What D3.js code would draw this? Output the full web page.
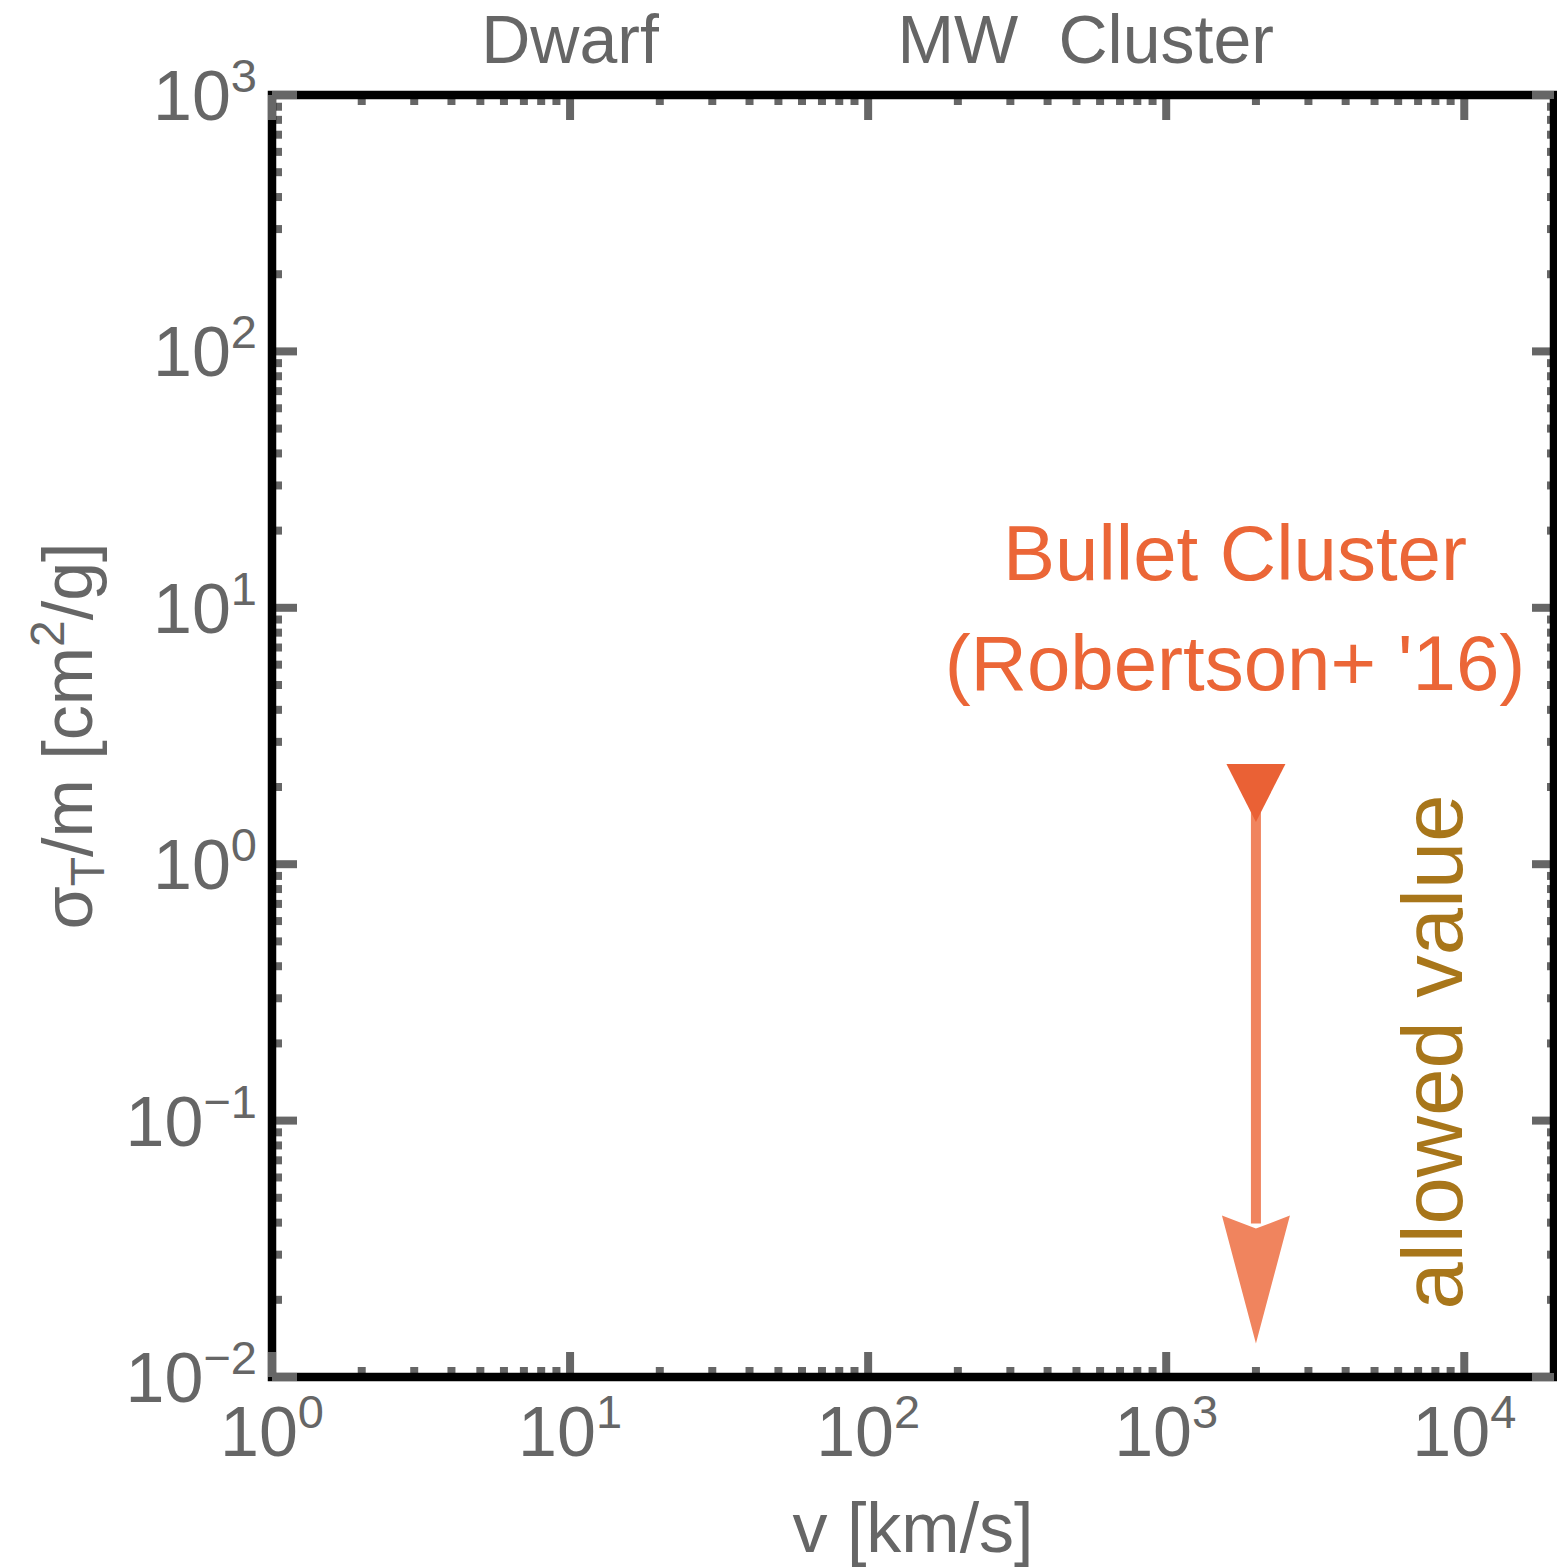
<!DOCTYPE html>
<html>
<head>
<meta charset="utf-8">
<script src="https://cdn.jsdelivr.net/npm/d3@7"></script>
<style>
    body { margin: 0; background: white; }
    text { font-family: "Liberation Sans", Arial, Helvetica, sans-serif; }
</style>
</head>
<body>
<script>
// data
const x_domain = [1, 2e4];
const y_domain = [1e-2, 1e3];
const x_decades = [0, 1, 2, 3, 4];
const y_decades = [-2, -1, 0, 1, 2, 3];
const top_labels = ["Dwarf", "MW", "Cluster"];
const top_label_v = [10, 200, 1000];
const bullet_v = [2000];
const bullet_sigma = [2];
const bullet_arrow_end = [0.0135];
const bullet_text = ["Bullet Cluster", "(Robertson+ '16)"];
const allowed_text = "allowed value";

const width = 1557;
const height = 1567;
const grey = "#666666";

const svg = d3.select("body")
    .append("svg")
    .attr("width", width)
    .attr("height", height);

const x = d3.scaleLog()
    .domain(x_domain)
    .range([272, 1554]);
const y = d3.scaleLog()
    .domain(y_domain)
    .range([1377, 95]);

const [x0, x1] = x.range();
const [y0, y1] = y.range();

// tick positions (major + minor 2..9)
const minor = decs => decs.flatMap(e => d3.range(2, 10).map(m => m * Math.pow(10, e)));
const x_major = x_decades.map(e => Math.pow(10, e));
const y_major = y_decades.map(e => Math.pow(10, e));
const x_minor = minor(x_decades).filter(v => v < x_domain[1]);
const y_minor = minor(y_decades.slice(0, -1));

const maj_len = 25;
const min_len = 10;
const tick_w = 8;

const ticks_under = svg.append("g").attr("id", "ticks_under");
svg.append("rect")
    .attr("x", x0)
    .attr("y", y1)
    .attr("width", x1 - x0)
    .attr("height", y0 - y1)
    .attr("fill", "none")
    .attr("stroke", "black")
    .attr("stroke-width", 8.5);
const ticks_over = svg.append("g").attr("id", "ticks_over");

const x_ticks = x_major.map(v => ({ v, len: maj_len })).concat(x_minor.map(v => ({ v, len: min_len })));
const y_ticks = y_major.map(v => ({ v, len: maj_len })).concat(y_minor.map(v => ({ v, len: min_len })));

// ticks at the ends of the domain sit on the frame, drawn on top
const x_end = d => d.v === x_domain[0];
const y_end = d => d.v === y_domain[0] || d.v === y_domain[1];

[["bottom", y0, -1], ["top", y1, 1]].forEach(([side, ypos, dir]) => {
    x_ticks.forEach(d => {
        (x_end(d) ? ticks_over : ticks_under).append("line")
            .attr("class", `tick ${side}`)
            .attr("x1", x(d.v)).attr("x2", x(d.v))
            .attr("y1", ypos).attr("y2", ypos + dir * d.len)
            .attr("stroke", grey)
            .attr("stroke-width", tick_w);
    });
});
[["left", x0, 1], ["right", x1, -1]].forEach(([side, xpos, dir]) => {
    y_ticks.forEach(d => {
        (y_end(d) ? ticks_over : ticks_under).append("line")
            .attr("class", `tick ${side}`)
            .attr("y1", y(d.v)).attr("y2", y(d.v))
            .attr("x1", xpos).attr("x2", xpos + dir * (side === "right" ? d.len - 3 : d.len))
            .attr("stroke", grey)
            .attr("stroke-width", tick_w);
    });
});

// tick labels 10^n
const tick_fs = 70;
const sup_fs = 47;
const pow_label = (sel, e) => {
    sel.append("tspan").text("10");
    sel.append("tspan")
        .attr("font-size", sup_fs)
        .attr("dy", -28)
        .text(e < 0 ? "\u2212" + (-e) : e);
};

svg.append("g")
    .attr("id", "x_labels")
    .selectAll("text")
    .data(x_decades)
    .join("text")
    .attr("x", e => x(Math.pow(10, e)))
    .attr("y", 1456)
    .attr("text-anchor", "middle")
    .attr("font-size", tick_fs)
    .attr("fill", grey)
    .each(function (e) { pow_label(d3.select(this), e); });

svg.append("g")
    .attr("id", "y_labels")
    .selectAll("text")
    .data(y_decades)
    .join("text")
    .attr("x", 257)
    .attr("y", e => y(Math.pow(10, e)) + 25)
    .attr("text-anchor", "end")
    .attr("font-size", tick_fs)
    .attr("fill", grey)
    .each(function (e) { pow_label(d3.select(this), e); });

// axis titles
svg.append("text")
    .attr("x", (x0 + x1) / 2)
    .attr("y", 1552)
    .attr("text-anchor", "middle")
    .attr("font-size", 70)
    .attr("fill", grey)
    .text("v [km/s]");

const ytitle = svg.append("text")
    .attr("transform", `translate(92,${(y0 + y1) / 2}) rotate(-90)`)
    .attr("text-anchor", "middle")
    .attr("font-size", 70)
    .attr("fill", grey);
ytitle.append("tspan").text("\u03c3");
ytitle.append("tspan").attr("font-size", 48).attr("dy", 12).text("T");
ytitle.append("tspan").attr("dy", -12).text("/m [cm");
ytitle.append("tspan").attr("font-size", 48).attr("dy", -28).text("2");
ytitle.append("tspan").attr("dy", 28).text("/g]");

// top labels
svg.append("g")
    .attr("id", "top_labels")
    .selectAll("text")
    .data(top_labels)
    .join("text")
    .attr("x", (d, i) => x(top_label_v[i]))
    .attr("y", 63)
    .attr("text-anchor", "middle")
    .attr("font-size", 68)
    .attr("fill", grey)
    .text(d => d);

// bullet cluster upper limit
const bx = x(bullet_v[0]);
const by = y(bullet_sigma[0]);
const tip = y(bullet_arrow_end[0]);
const limit = svg.append("g").attr("id", "bullet");
limit.append("line")
    .attr("x1", bx).attr("x2", bx)
    .attr("y1", by).attr("y2", tip - 120)
    .attr("stroke", "#f0845e")
    .attr("stroke-width", 10);
limit.append("path")
    .attr("d", `M${bx},${tip} L${bx - 34},${tip - 128} L${bx},${tip - 115} L${bx + 34},${tip - 128} Z`)
    .attr("fill", "#f0845e");
limit.append("path")
    .attr("d", `M${bx - 29.5},${by - 23} L${bx + 29.5},${by - 23} L${bx},${by + 35} Z`)
    .attr("fill", "#ea6135");

svg.append("g")
    .attr("id", "bullet_text")
    .selectAll("text")
    .data(bullet_text)
    .join("text")
    .attr("x", 1235)
    .attr("y", (d, i) => 580 + i * 110)
    .attr("text-anchor", "middle")
    .attr("font-size", 78)
    .attr("fill", "#eb6637")
    .text(d => d);

svg.append("text")
    .attr("transform", "translate(1462,1052) rotate(-90)")
    .attr("text-anchor", "middle")
    .attr("font-size", 85)
    .attr("fill", "#a8761a")
    .text(allowed_text);
</script>
</body>
</html>
